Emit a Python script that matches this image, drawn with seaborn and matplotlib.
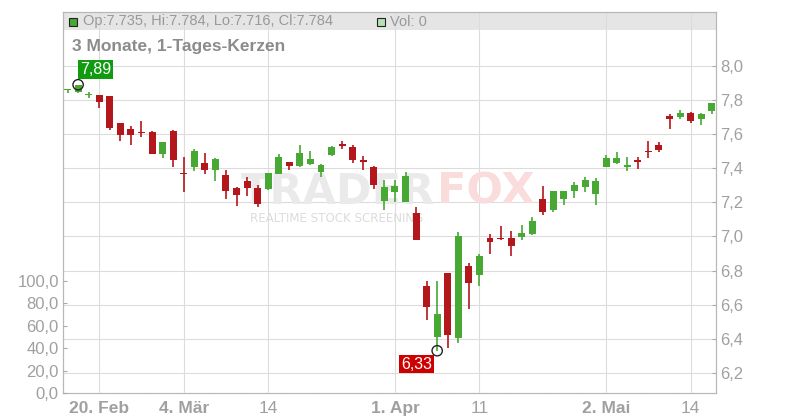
import numpy as np
import pandas as pd
import matplotlib
matplotlib.use("Agg")
import matplotlib.pyplot as plt
import seaborn as sns
from matplotlib.patches import Rectangle

sns.set_theme(style="white")
plt.rcParams['font.family'] = ['Liberation Sans', 'DejaVu Sans']

# ---------------- data ----------------
opens = [7.860, 7.849, 7.831, 7.830, 7.824, 7.666, 7.630, 7.609, 7.615, 7.486,
         7.621, 7.372, 7.409, 7.431, 7.392, 7.361, 7.284, 7.325, 7.284, 7.280,
         7.368, 7.437, 7.413, 7.425, 7.378, 7.480, 7.543, 7.525, 7.449, 7.408,
         7.210, 7.261, 7.202, 7.140, 6.710, 6.412, 6.786, 6.406, 6.827, 6.776,
         6.989, 6.992, 6.991, 6.999, 7.015, 7.220, 7.157, 7.218, 7.269, 7.292,
         7.251, 7.409, 7.433, 7.409, 7.450, 7.498, 7.537, 7.707, 7.701, 7.724,
         7.689, 7.735]
highs = [7.865, 7.890, 7.846, 7.832, 7.826, 7.667, 7.648, 7.677, 7.620, 7.557,
         7.623, 7.466, 7.513, 7.490, 7.460, 7.390, 7.290, 7.350, 7.300, 7.372,
         7.482, 7.439, 7.537, 7.501, 7.427, 7.533, 7.560, 7.537, 7.472, 7.414,
         7.331, 7.331, 7.378, 7.175, 6.741, 6.741, 6.788, 7.028, 6.843, 6.897,
         7.015, 7.060, 7.032, 7.067, 7.116, 7.296, 7.268, 7.268, 7.320, 7.349,
         7.343, 7.476, 7.496, 7.464, 7.466, 7.560, 7.554, 7.718, 7.742, 7.730,
         7.724, 7.784]
lows = [7.843, 7.843, 7.810, 7.755, 7.625, 7.562, 7.538, 7.585, 7.484, 7.462,
        7.409, 7.263, 7.386, 7.368, 7.327, 7.220, 7.180, 7.238, 7.175, 7.272,
        7.366, 7.390, 7.408, 7.419, 7.350, 7.474, 7.513, 7.433, 7.390, 7.279,
        7.155, 7.202, 7.200, 6.978, 6.510, 6.330, 6.348, 6.375, 6.575, 6.710,
        6.897, 6.980, 6.886, 6.980, 7.010, 7.126, 7.145, 7.185, 7.228, 7.263,
        7.187, 7.405, 7.427, 7.386, 7.396, 7.462, 7.497, 7.632, 7.689, 7.667,
        7.654, 7.716]
closes = [7.864, 7.887, 7.836, 7.790, 7.638, 7.597, 7.597, 7.605, 7.486, 7.556,
          7.450, 7.368, 7.503, 7.392, 7.456, 7.269, 7.245, 7.286, 7.190, 7.370,
          7.466, 7.415, 7.490, 7.455, 7.419, 7.525, 7.532, 7.450, 7.435, 7.304,
          7.290, 7.296, 7.355, 6.980, 6.588, 6.545, 6.422, 7.003, 6.729, 6.886,
          6.970, 6.986, 6.944, 7.022, 7.091, 7.145, 7.267, 7.267, 7.302, 7.331,
          7.325, 7.459, 7.460, 7.419, 7.439, 7.494, 7.507, 7.691, 7.724, 7.679,
          7.718, 7.784]
volumes = [0] * 62

holidays = ["2025-04-18", "2025-04-21", "2025-05-01"]
dates = [d for d in pd.bdate_range("2025-02-17", "2025-05-16")
         if d.strftime("%Y-%m-%d") not in holidays]

tick_dates = ["2025-02-20", "2025-03-04", "2025-03-14", "2025-04-01",
              "2025-04-11", "2025-05-02", "2025-05-14"]
tick_labels = ["20. Feb", "4. Mär", "14", "1. Apr", "11", "2. Mai", "14"]
tick_bold = [True, True, False, True, False, True, False]

price_ticks = [6.2, 6.4, 6.6, 6.8, 7.0, 7.2, 7.4, 7.6, 7.8, 8.0]
volume_ticks = [0, 20, 40, 60, 80, 100]

hi_label, lo_label = "7,89", "6,33"
header_text = "Op:7.735, Hi:7.784, Lo:7.716, Cl:7.784"
vol_text = "Vol: 0"
title_text = "3 Monate, 1-Tages-Kerzen"

# ---------------- figure ----------------
GREEN = "#47a934"
RED = "#b3161b"
GRID = "#dcdcdc"
TXT = "#a0a0a0"

W, H = 800, 420
L, R, B, T = 63, 716, 393, 12
fig = plt.figure(figsize=(8, 4.2), dpi=100)
ax = fig.add_axes([L / W, 1 - B / H, (R - L) / W, (B - T) / H])
axv = ax.twinx()

df = pd.DataFrame({"date": dates, "open": opens, "high": highs,
                   "low": lows, "close": closes, "volume": volumes})
df["idx"] = np.arange(len(df))
up = df["close"] >= df["open"]
colors = np.where(up, GREEN, RED)

# header band
ax.add_patch(Rectangle((0, 1 - 18 / (B - T)), 1, 18 / (B - T), transform=ax.transAxes,
                       facecolor="#e5e5e5", edgecolor="none", zorder=0.2))

# watermark
ax.text((435 - L) / (R - L), (B - 204) / (B - T), "TRADER", transform=ax.transAxes,
        ha="right", va="baseline", fontsize=31, fontweight="bold",
        family="DejaVu Sans", color="#eaeaea", zorder=1)
ax.text((437 - L) / (R - L), (B - 204) / (B - T), "FOX", transform=ax.transAxes,
        ha="left", va="baseline", fontsize=31, fontweight="bold",
        family="DejaVu Sans", color="#fadcdc", zorder=1)
ax.text((250 - L) / (R - L), (B - 222) / (B - T), "REALTIME STOCK SCREENING",
        transform=ax.transAxes, ha="left", va="baseline", fontsize=8.6,
        family="DejaVu Sans", color="#dcdcdc", zorder=1)

# candles
ax.vlines(df["idx"], df["low"], df["high"], colors=colors, linewidth=1.2, zorder=3)
body_bottom = np.minimum(df["open"], df["close"])
body_h = np.maximum(np.abs(df["close"] - df["open"]), 0.006)
ax.bar(df["idx"], body_h, bottom=body_bottom, width=0.66, color=colors,
       edgecolor="none", zorder=4)

# hi/lo markers and labels
i_hi = int(np.argmax(highs))
i_lo = int(np.argmin(lows))
ax.scatter([i_hi, i_lo], [highs[i_hi], lows[i_lo]], s=55, facecolors="none",
           edgecolors="#222222", linewidths=1, zorder=6)
ax.annotate(hi_label, (i_hi, highs[i_hi]), xytext=(12.6, 10.8), textcoords="offset points",
            ha="center", va="center", fontsize=11.5, color="white", zorder=7,
            bbox=dict(boxstyle="square,pad=0.12", facecolor="#119b11", edgecolor="none"))
ax.annotate(lo_label, (i_lo, lows[i_lo]), xytext=(-14.8, -9.6), textcoords="offset points",
            ha="center", va="center", fontsize=11.5, color="white", zorder=7,
            bbox=dict(boxstyle="square,pad=0.12", facecolor="#cc0000", edgecolor="none"))

# price axis (right)
ax.set_xlim(-0.43, 61.4)
ax.set_ylim(8.0 - (B - 66) / 170.5, 8.0 + (66 - T) / 170.5)
ax.yaxis.tick_right()
ax.yaxis.set_label_position("right")
ax.set_yticks(price_ticks)
ax.set_yticklabels([f"{v:.1f}".replace(".", ",") for v in price_ticks])
ax.tick_params(axis="y", direction="in", length=3.2, width=0.8, color="#aaaaaa",
               labelsize=12, labelcolor=TXT, pad=3, left=False, right=True,
               labelleft=False, labelright=True)

tick_pos = [df.index[df["date"] == pd.Timestamp(d)][0] for d in tick_dates]
ax.set_xticks(tick_pos)
ax.set_xticklabels(tick_labels)
for lab, b in zip(ax.get_xticklabels(), tick_bold):
    lab.set_fontweight("bold" if b else "normal")
    lab.set_family(["Liberation Sans Narrow", "Liberation Sans", "DejaVu Sans"])
ax.tick_params(axis="x", direction="out", length=3, width=0.8, color="#aaaaaa",
               labelsize=12.5, labelcolor=TXT, pad=3)

ax.grid(True, color=GRID, linewidth=0.8)
ax.set_axisbelow(True)
for s in ["top", "left", "right", "bottom"]:
    ax.spines[s].set_color("#b8b8b8")
    ax.spines[s].set_linewidth(0.9)
ax.set_xlabel("")
ax.set_ylabel("")

# volume axis (left)
axv.bar(df["idx"], df["volume"], width=0.66, color="#b3e0b3", zorder=2)
axv.set_ylim(0, (B - T) / (22.46 / 20))
axv.set_yticks(volume_ticks)
axv.set_yticklabels([f"{v:.1f}".replace(".", ",") for v in volume_ticks])
axv.yaxis.tick_left()
axv.yaxis.set_label_position("left")
axv.tick_params(axis="y", direction="in", length=3.2, width=0.8, color="#aaaaaa",
                labelsize=12, labelcolor=TXT, pad=3, right=False, left=True,
                labelright=False, labelleft=True)
axv.grid(False)
for s in ["top", "left", "right", "bottom"]:
    axv.spines[s].set_visible(False)

# header content
fig.add_artist(Rectangle((69 / W, 1 - 26 / H), 8 / W, 8 / H, transform=fig.transFigure,
                         facecolor=GREEN, edgecolor="#222222", linewidth=0.8))
fig.text(83 / W, 1 - 21.5 / H, header_text, fontsize=10.5, color="#999999", va="center")
fig.add_artist(Rectangle((377 / W, 1 - 26 / H), 8 / W, 8 / H, transform=fig.transFigure,
                         facecolor="#b5e2b5", edgecolor="#222222", linewidth=0.8))
fig.text(390 / W, 1 - 21.5 / H, vol_text, fontsize=10.5, color="#999999", va="center")
fig.text(72 / W, 1 - 47 / H, title_text, fontsize=12.5, fontweight="bold",
         color="#8c8c8c", va="center")

fig.savefig("out.png", dpi=100)
